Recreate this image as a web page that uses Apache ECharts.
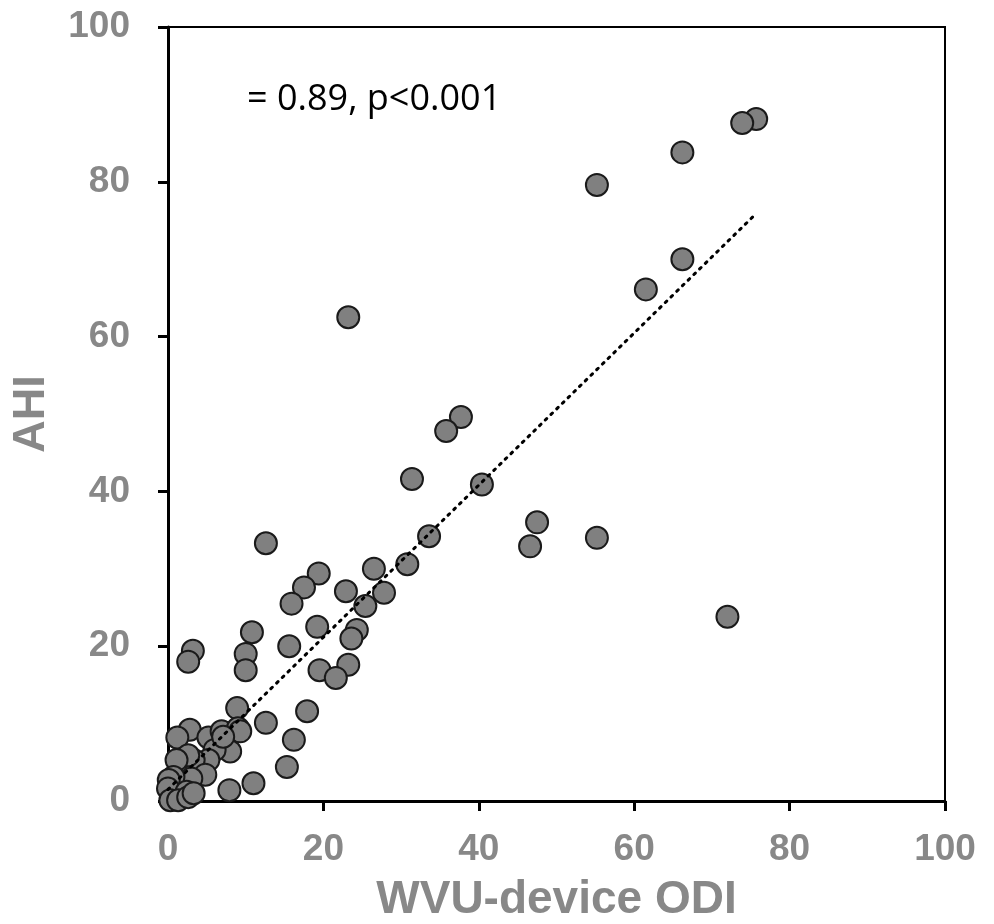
<!DOCTYPE html>
<html>
<head>
<meta charset="utf-8">
<script src="https://cdn.jsdelivr.net/npm/echarts@6/dist/echarts.min.js"></script>
<style>html,body{margin:0;padding:0;background:#fff;}#c{width:994px;height:924px;}</style>
</head>
<body>
<div id="c"></div>
<script>
const odi = [75.7,73.9,66.2,55.2,66.2,61.5,23.2,37.7,35.8,31.4,40.4,47.5,46.6,55.2,72.0,12.6,33.6,30.8,26.5,27.8,25.4,22.9,19.4,17.5,15.9,19.2,24.3,23.6,15.6,19.5,23.2,21.6,10.8,10.0,10.0,3.2,2.6,17.9,16.2,15.3,12.6,11.0,7.9,8.9,2.8,1.2,5.2,6.9,9.0,9.3,8.0,6.0,5.2,3.3,2.6,1.1,4.8,3.0,0.7,0.1,0.0,2.4,0.3,1.3,2.6,3.3,7.1];
const ahi = [88.1,87.6,83.8,79.6,70.0,66.1,62.5,49.6,47.8,41.6,40.9,36.0,32.9,34.0,23.8,33.3,34.2,30.6,30.0,26.9,25.2,27.1,29.4,27.6,25.5,22.5,22.1,21.0,20.0,16.9,17.6,15.9,21.8,19.0,16.9,19.4,18.0,11.6,7.9,4.4,10.1,2.3,1.4,12.0,9.2,8.2,8.2,9.0,9.4,9.0,6.4,6.6,5.3,5.3,5.9,5.3,3.4,2.9,3.1,2.7,1.6,1.2,0.1,0.1,0.5,1.0,8.3];
const trendX = [0, 75.7];
const trendY = [1.5, 75.9];
const annotation = '= 0.89, p<0.001';
const xTitle = 'WVU-device ODI';
const yTitle = 'AHI';

const pts = odi.map((v, i) => [v, ahi[i]]);
const trend = trendX.map((v, i) => [v, trendY[i]]);
const gray = '#888888';

const chart = echarts.init(document.getElementById('c'));
chart.setOption({
  animation: false,
  grid: {left: 168, right: 49, top: 27, bottom: 123, containLabel: false, outerBoundsMode: 'none',
         show: true, borderColor: '#000', borderWidth: 2, backgroundColor: 'transparent'},
  xAxis: {
    type: 'value', min: 0, max: 100, interval: 20,
    name: xTitle, nameLocation: 'middle', nameGap: 76,
    nameTextStyle: {color: gray, fontSize: 46, fontWeight: 'bold', fontFamily: 'Liberation Sans'},
    axisLine: {show: true, onZero: false, lineStyle: {color: '#000', width: 3}},
    axisTick: {show: true, inside: false, length: 10, lineStyle: {color: '#000', width: 3}},
    axisLabel: {color: gray, fontSize: 37, fontWeight: 'bold', fontFamily: 'Liberation Sans', margin: 30},
    splitLine: {show: false}
  },
  yAxis: {
    type: 'value', min: 0, max: 100, interval: 20,
    name: yTitle, nameLocation: 'middle', nameGap: 114, nameRotate: 90,
    nameTextStyle: {color: gray, fontSize: 45, fontWeight: 'bold', fontFamily: 'Liberation Sans'},
    axisLine: {show: true, onZero: false, lineStyle: {color: '#000', width: 3}},
    axisTick: {show: true, inside: false, length: 10, lineStyle: {color: '#000', width: 3}},
    axisLabel: {color: gray, fontSize: 37, fontWeight: 'bold', fontFamily: 'Liberation Sans', margin: 38},
    splitLine: {show: false}
  },
  graphic: [{
    type: 'text', left: 247, top: 82, z: 100,
    style: {text: annotation, fill: '#000', fontSize: 36, fontFamily: 'Open Sans'}
  }],
  series: [
    {
      type: 'scatter', data: pts, symbol: 'circle', symbolSize: 22,
      itemStyle: {color: '#808080', borderColor: '#1a1a1a', borderWidth: 2, opacity: 1},
      z: 2
    },
    {
      type: 'line', data: trend, symbol: 'none', z: 3,
      lineStyle: {color: '#000', width: 3, type: [2, 6], cap: 'round'}
    }
  ]
});
</script>
</body>
</html>
